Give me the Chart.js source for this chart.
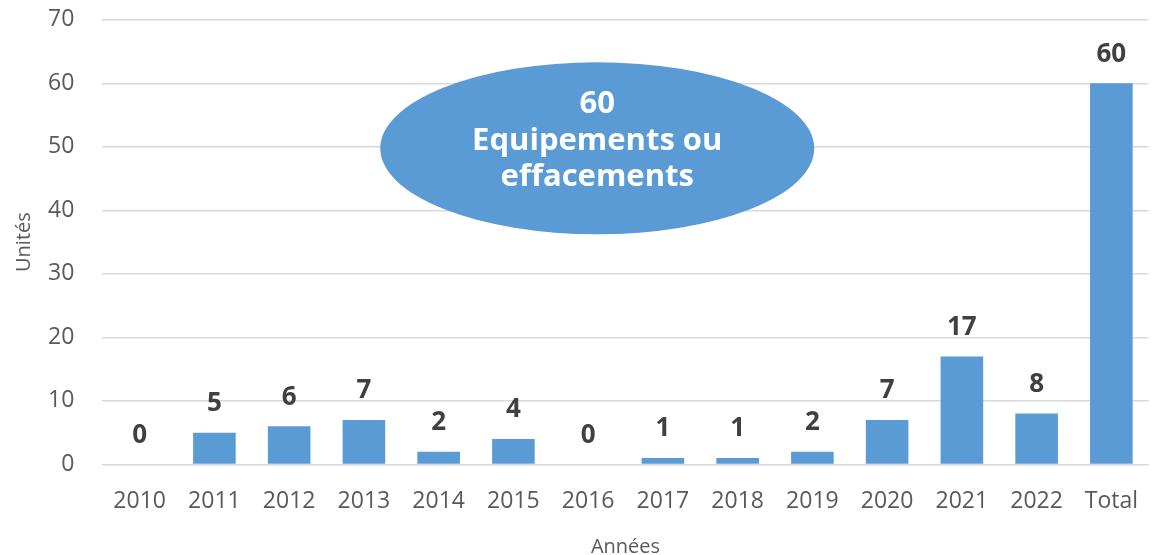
<!DOCTYPE html>
<html>
<head>
<meta charset="utf-8">
<script src="https://cdn.jsdelivr.net/npm/chart.js@4"></script>
<style>
  html, body { margin: 0; padding: 0; background: #fff; }
  #chart { display: block; }
</style>
</head>
<body>
<canvas id="chart" width="1153" height="555"></canvas>
<script>
const years = ['2010', '2011', '2012', '2013', '2014', '2015', '2016', '2017', '2018', '2019', '2020', '2021', '2022', 'Total'];
const units = [0, 5, 6, 7, 2, 4, 0, 1, 1, 2, 7, 17, 8, 60];
const yTicks = [0, 10, 20, 30, 40, 50, 60, 70];
const bubbleLines = ['60', 'Equipements ou', 'effacements'];

const FONT = "'Open Sans', 'Noto Sans', sans-serif";

// value labels above each bar
const barLabels = {
  id: 'barLabels',
  afterDatasetsDraw(chart) {
    const ctx = chart.ctx;
    const meta = chart.getDatasetMeta(0);
    ctx.save();
    ctx.fillStyle = '#404040';
    ctx.font = `bold 26px ${FONT}`;
    ctx.textAlign = 'center';
    ctx.textBaseline = 'middle';
    meta.data.forEach((bar, i) => {
      ctx.fillText(String(units[i]), bar.x, bar.y - 29);
    });
    ctx.restore();
  }
};

// the blue ellipse with the total
const bubble = {
  id: 'bubble',
  afterDraw(chart) {
    const { ctx, chartArea } = chart;
    const w = chartArea.right - chartArea.left;
    const h = chartArea.bottom - chartArea.top;
    const cx = chartArea.left + w * 0.473;
    const cy = chartArea.top + h * 0.289;
    ctx.save();
    ctx.beginPath();
    ctx.ellipse(cx, cy, 217, 86, 0, 0, Math.PI * 2);
    ctx.fillStyle = '#5B9BD5';
    ctx.fill();
    ctx.fillStyle = '#ffffff';
    ctx.font = `bold 31px ${FONT}`;
    ctx.textAlign = 'center';
    ctx.textBaseline = 'middle';
    bubbleLines.forEach((line, i) => {
      ctx.fillText(line, cx, cy - 44 + i * 36.5);
    });
    ctx.restore();
  }
};

new Chart(document.getElementById('chart'), {
  type: 'bar',
  data: {
    labels: years,
    datasets: [{
      data: units,
      backgroundColor: '#5B9BD5',
      barPercentage: 0.57,
      categoryPercentage: 1
    }]
  },
  options: {
    responsive: false,
    animation: false,
    layout: { padding: { top: 0, right: 0, left: 8, bottom: -8 } },
    plugins: {
      legend: { display: false },
      tooltip: { enabled: false }
    },
    scales: {
      x: {
        grid: { display: false },
        border: { display: false },
        ticks: { color: '#595959', font: { family: FONT, size: 23 }, padding: 15 },
        title: { display: true, text: 'Années', color: '#595959', font: { family: FONT, size: 20 }, padding: { top: 5 } }
      },
      y: {
        min: 0,
        max: 70,
        afterBuildTicks(axis) { axis.ticks = yTicks.map(v => ({ value: v })); },
        // invisible tick marks keep the labels away from the plot
        grid: { color: '#d9d9d9', lineWidth: 1.5, drawTicks: true, tickLength: 22, tickColor: 'rgba(0,0,0,0)' },
        border: { display: false },
        ticks: { color: '#595959', font: { family: FONT, size: 23 }, padding: 6 },
        title: { display: true, text: 'Unités', color: '#595959', font: { family: FONT, size: 20 }, padding: { bottom: 6 } }
      }
    }
  },
  plugins: [barLabels, bubble]
});
</script>
</body>
</html>
